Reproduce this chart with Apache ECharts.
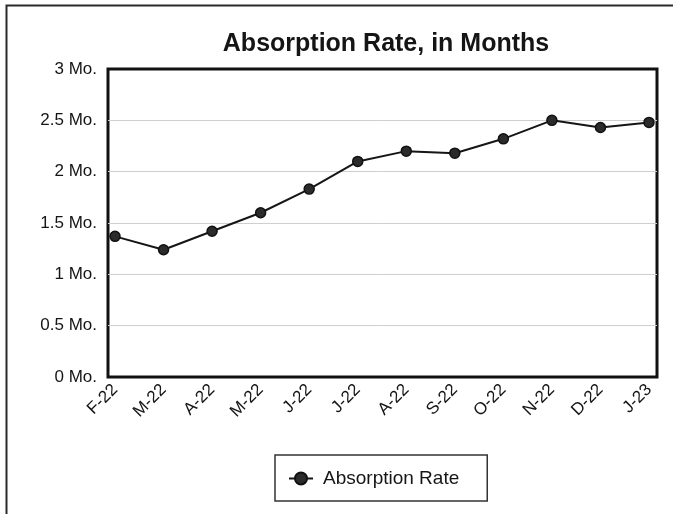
<!DOCTYPE html>
<html>
<head>
<meta charset="utf-8">
<script src="https://cdn.jsdelivr.net/npm/echarts@6/dist/echarts.min.js"></script>
<style>
html,body{margin:0;padding:0;background:#fff;}
#chart{width:673px;height:514px;}
</style>
</head>
<body>
<div id="chart"></div>
<script>
var categories = ['F-22','M-22','A-22','M-22','J-22','J-22','A-22','S-22','O-22','N-22','D-22','J-23'];
var absorptionRate = [1.37,1.24,1.42,1.60,1.83,2.10,2.20,2.18,2.32,2.50,2.43,2.48];
var seriesName = 'Absorption Rate';
var titleText = 'Absorption Rate, in Months';
var yUnit = ' Mo.';

var FONT = '"Liberation Sans", Arial, sans-serif';
var chart = echarts.init(document.getElementById('chart'), null, {renderer:'canvas'});
chart.setOption({
  backgroundColor: '#fff',
  animation: false,
  graphic: [{
    type: 'rect', left: 4, top: 3, silent: true,
    shape: {width: 700, height: 530},
    style: {fill: 'none', stroke: '#2a2a2a', lineWidth: 2}
  }],
  title: {
    text: titleText, left: 381, textAlign: 'center', top: 27,
    textStyle: {fontFamily: FONT, fontSize: 25, fontWeight: 'bold', color: '#151515'}
  },
  legend: {
    data: [seriesName],
    left: 275, top: 455,
    backgroundColor: '#fff',
    borderColor: '#333', borderWidth: 1.5,
    padding: [14, 28, 13, 13],
    itemWidth: 24, itemHeight: 15,
    textStyle: {fontFamily: FONT, fontSize: 19, color: '#151515', padding: [0,0,0,5]}
  },
  grid: [
    {left: 108, top: 69, width: 549, height: 308, show: true, borderColor: '#111', borderWidth: 3, backgroundColor: '#fff', z: 0},
    {left: 115, top: 69, width: 534, height: 308, show: false}
  ],
  xAxis: [
    {type: 'value', gridIndex: 0, show: false, min: 0, max: 1},
    {type: 'category', gridIndex: 1, data: categories, boundaryGap: false,
     axisLine: {show: false}, axisTick: {show: false}, splitLine: {show: false},
     axisLabel: {rotate: 45, margin: 10, interval: 0, fontFamily: FONT, fontSize: 17, color: '#151515'}}
  ],
  yAxis: [
    {type: 'value', gridIndex: 0, min: 0, max: 3, interval: 0.5,
     axisLine: {show: false}, axisTick: {show: false},
     splitLine: {showMinLine: false, showMaxLine: false, lineStyle: {color: '#cfcfcf', width: 1}},
     axisLabel: {margin: 11, fontFamily: FONT, fontSize: 17, color: '#151515',
       formatter: function(v){ return v + yUnit; }}},
    {type: 'value', gridIndex: 1, min: 0, max: 3, show: false}
  ],
  series: [{
    name: seriesName, type: 'line', xAxisIndex: 1, yAxisIndex: 1,
    data: absorptionRate,
    symbol: 'circle', symbolSize: 10,
    lineStyle: {color: '#151515', width: 2},
    itemStyle: {color: '#2b2b2b', borderColor: '#111', borderWidth: 1.5},
    z: 5
  }]
});
</script>
</body>
</html>
